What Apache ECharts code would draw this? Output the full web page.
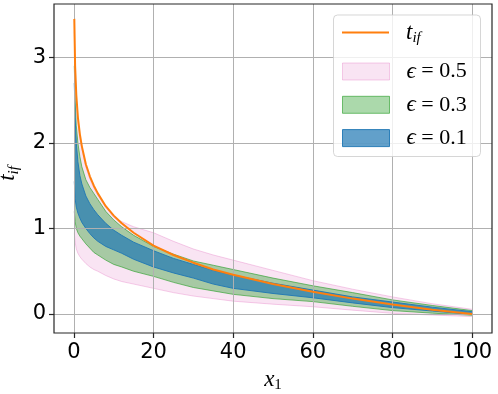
<!DOCTYPE html>
<html><head><meta charset="utf-8">
<script src="https://cdn.jsdelivr.net/npm/echarts@6/dist/echarts.min.js"></script>
<style>html,body{margin:0;padding:0;background:#fff}#c{width:498px;height:394px}</style>
</head><body><div id="c"></div>
<script>
// ---- data ----
const xs      = [0.1, 0.3, 0.6, 1, 1.5, 2, 3, 4, 5, 6, 8, 10, 12, 15, 20, 25, 30, 35, 40, 50, 60, 70, 80, 90, 100];
const tIf     = [3.45, 2.90, 2.56, 2.30, 2.10, 1.96, 1.75, 1.61, 1.50, 1.41, 1.26, 1.15, 1.06, 0.95, 0.80, 0.69, 0.60, 0.52, 0.46, 0.35, 0.26, 0.18, 0.11, 0.05, 0.00];
const eps05Up = [3.30, 2.85, 2.52, 2.26, 2.07, 1.93, 1.72, 1.58, 1.47, 1.39, 1.25, 1.13, 1.08, 1.02, 0.95, 0.85, 0.76, 0.69, 0.63, 0.51, 0.39, 0.29, 0.20, 0.12, 0.055];
const eps05Lo = [0.95, 0.84, 0.76, 0.71, 0.67, 0.64, 0.59, 0.55, 0.52, 0.50, 0.45, 0.41, 0.38, 0.35, 0.30, 0.25, 0.21, 0.18, 0.15, 0.115, 0.085, 0.045, 0.008, -0.012, -0.03];
const eps03Up = [2.90, 2.50, 2.20, 2.00, 1.84, 1.72, 1.57, 1.48, 1.41, 1.34, 1.20, 1.10, 1.02, 0.92, 0.79, 0.70, 0.62, 0.57, 0.52, 0.42, 0.33, 0.25, 0.165, 0.10, 0.04];
const eps03Lo = [1.20, 1.08, 1.00, 0.95, 0.91, 0.88, 0.82, 0.77, 0.72, 0.69, 0.63, 0.58, 0.55, 0.50, 0.44, 0.37, 0.31, 0.27, 0.23, 0.18, 0.145, 0.09, 0.04, 0.01, -0.015];
const eps01Up = [2.70, 2.30, 2.00, 1.78, 1.62, 1.52, 1.38, 1.29, 1.22, 1.16, 1.06, 0.98, 0.92, 0.84, 0.74, 0.65, 0.58, 0.51, 0.455, 0.36, 0.28, 0.20, 0.14, 0.08, 0.027];
const eps01Lo = [1.55, 1.35, 1.25, 1.18, 1.12, 1.07, 1.00, 0.94, 0.89, 0.85, 0.79, 0.75, 0.71, 0.64, 0.55, 0.48, 0.42, 0.35, 0.30, 0.24, 0.19, 0.13, 0.075, 0.035, -0.005];
const xTicks = [0, 20, 40, 60, 80, 100];
const yTicks = [0, 1, 2, 3];
const bandLabels = ['0.5', '0.3', '0.1'];

// ---- styles ----
const serif = "'Liberation Serif','DejaVu Serif',serif";
const richMath = {
  p:  {width: 12},
  it: {fontFamily: serif, fontStyle: 'italic', fontSize: 23, color: '#000'},
  sb: {fontFamily: serif, fontStyle: 'italic', fontSize: 15, color: '#000', padding: [12, 0, 0, 0]},
  su: {fontFamily: serif, fontSize: 15, color: '#000', padding: [12, 0, 0, 0]},
  n:  {fontFamily: serif, fontSize: 22, color: '#000'}
};

function bandSeries(name, lo, up, color, alpha, edge) {
  return {
    name: name, type: 'custom', z: 2,
    data: xs.map((x, i) => [x, lo[i], up[i]]),
    encode: {x: 0, y: [1, 2]},
    renderItem: function (params, api) {
      if (params.dataIndexInside !== 0) return null;
      const n = params.dataInsideLength;
      const upper = [], lower = [];
      for (let i = 0; i < n; i++) {
        upper.push(api.coord([api.value(0, i), api.value(2, i)]));
        lower.push(api.coord([api.value(0, i), api.value(1, i)]));
      }
      const poly = upper.concat(lower.slice().reverse());
      return {type: 'group', children: [
        {type: 'polygon', shape: {points: poly}, style: {fill: color, opacity: alpha}},
        {type: 'polyline', shape: {points: upper}, style: {stroke: edge, lineWidth: 1, fill: null}},
        {type: 'polyline', shape: {points: lower}, style: {stroke: edge, lineWidth: 1, fill: null}}
      ]};
    }
  };
}

const bands = [
  {name: 'e5', lo: eps05Lo, up: eps05Up, color: '#e377c2', alpha: 0.2, edge: 'rgba(227,119,194,0.36)'},
  {name: 'e3', lo: eps03Lo, up: eps03Up, color: '#2ca02c', alpha: 0.4, edge: 'rgba(44,160,44,0.64)'},
  {name: 'e1', lo: eps01Lo, up: eps01Up, color: '#1f77b4', alpha: 0.7, edge: 'rgba(31,119,180,0.91)'}
];

const series = bands.map(b => bandSeries(b.name, b.lo, b.up, b.color, b.alpha, b.edge));
series.push({
  name: 't', type: 'line', z: 6, symbol: 'none', smooth: false,
  data: xs.map((x, i) => [x, tIf[i]]),
  lineStyle: {color: '#ff7f0e', width: 2}, itemStyle: {color: '#ff7f0e'}
});

const legends = [
  {data: [{name: 't', icon: 'rect', itemStyle: {color: '#ff7f0e', borderWidth: 0}}], top: 21, itemHeight: 2,
   formatter: () => '{p|}{it|t}{sb|if}'}
].concat(bands.map((b, k) => {
  const rgb = b.color;
  const r = parseInt(rgb.slice(1,3),16), g = parseInt(rgb.slice(3,5),16), bl = parseInt(rgb.slice(5,7),16);
  return {
    data: [{name: b.name, icon: 'rect', itemStyle: {color: `rgba(${r},${g},${bl},${b.alpha})`, borderColor: b.edge, borderWidth: 1}}],
    top: 60 + k * 33.3, itemHeight: 17,
    formatter: () => '{p|}{it|ϵ}{n| = ' + bandLabels[k] + '}'
  };
})).map(l => Object.assign({
  left: 342, orient: 'vertical', padding: 0, itemWidth: 47, z: 12, selectedMode: false,
  textStyle: {rich: richMath}
}, l));

const option = {
  animation: false,
  backgroundColor: '#fff',
  grid: {left: 54, top: 4, width: 438, height: 329, outerBoundsMode: 'none', containLabel: false,
         show: true, borderColor: '#262626', borderWidth: 1.2, backgroundColor: 'transparent', z: 7},
  xAxis: {
    type: 'value', min: -5, max: 105, z: 4,
    axisLine: {show: false, onZero: false},
    axisTick: {show: true, customValues: xTicks, length: 5, lineStyle: {color: '#262626', width: 1.2}},
    axisLabel: {customValues: xTicks, fontSize: 21, color: '#000', fontFamily: 'DejaVu Sans', margin: 9},
    splitLine: {show: true, lineStyle: {color: '#b0b0b0', width: 1}},
    name: '{it|x}{su|1}', nameLocation: 'middle', nameGap: 33,
    nameTextStyle: {rich: richMath}
  },
  yAxis: {
    type: 'value', min: -0.222, max: 3.624, z: 4,
    axisLine: {show: false, onZero: false},
    axisTick: {show: true, customValues: yTicks, length: 5, lineStyle: {color: '#262626', width: 1.2}},
    axisLabel: {customValues: yTicks, fontSize: 21, color: '#000', fontFamily: 'DejaVu Sans', margin: 8},
    splitLine: {show: true, lineStyle: {color: '#b0b0b0', width: 1}},
    name: '{it|t}{sb|if}', nameLocation: 'middle', nameGap: 26,
    nameTextStyle: {rich: richMath, padding: [0, 10, 0, 0]}
  },
  graphic: [{
    type: 'rect', z: 10, shape: {x: 333.5, y: 15, width: 147, height: 141.5, r: 4},
    style: {fill: 'rgba(255,255,255,0.8)', stroke: 'rgba(204,204,204,0.8)', lineWidth: 1}
  }],
  legend: legends,
  series: series
};

const chart = echarts.init(document.getElementById('c'), null, {renderer: 'canvas'});
chart.setOption(option);
</script>
</body></html>
